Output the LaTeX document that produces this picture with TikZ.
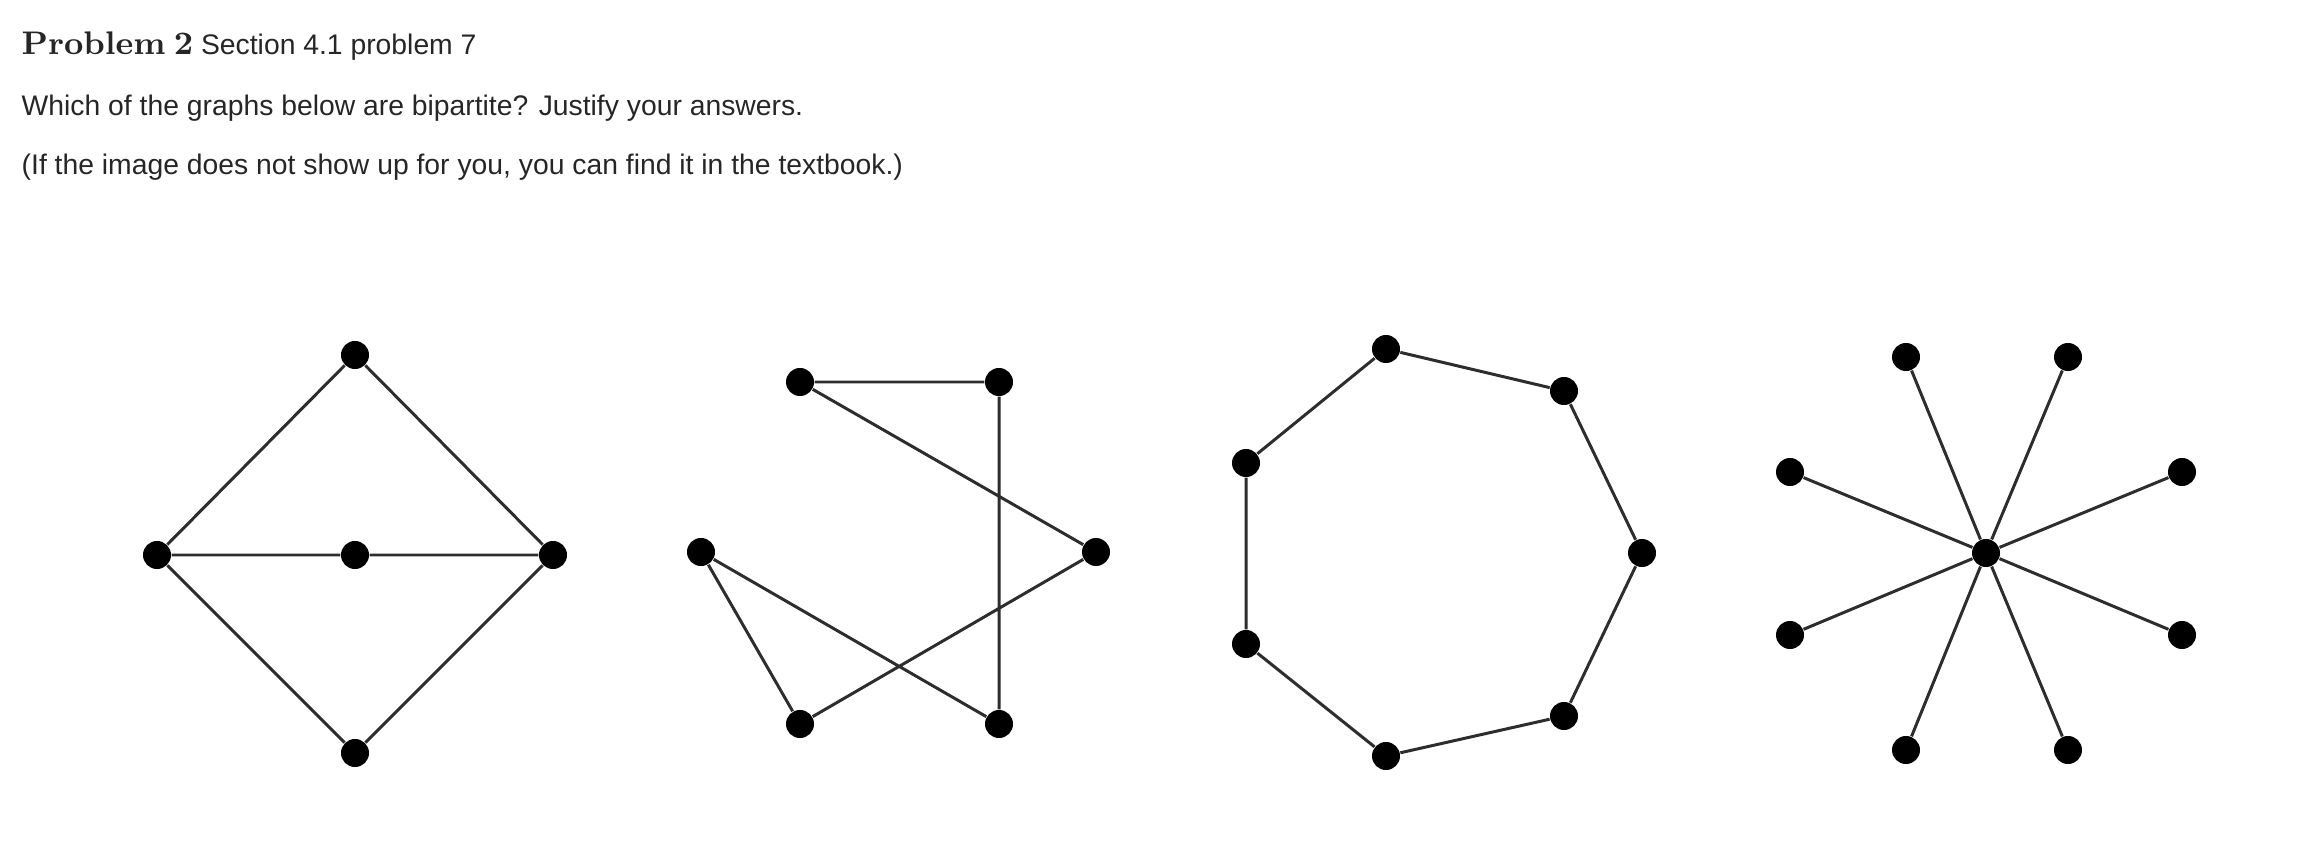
\documentclass[tikz,border=0pt]{standalone}
\usepackage{fontspec}
\setsansfont{Liberation Sans}
\definecolor{EdgeGray}{RGB}{45, 45, 45}
\usetikzlibrary{positioning}

\begin{document}
\begin{tikzpicture}[x=0.01cm, y=-0.01cm,
    vtx/.style={circle, fill=black, inner sep=0pt, minimum size=0.28cm},
    edge/.style={draw=EdgeGray, line width=0.85pt},
    txt/.style={anchor=base west, inner sep=0pt, font=\sffamily\fontsize{8.05}{9.6}\selectfont, text=black!85}]
    \useasboundingbox (0,0) rectangle (2320,852);
    % Header text
    \node[txt] (title) at (21,55) {{\rmfamily\bfseries\fontsize{9.3}{11}\selectfont Problem\kern0.25em2} Section 4.1 problem 7};
    \node[txt] (question) at (21,116) {Which of the graphs below are bipartite? Justify your answers.};
    \node[txt] (note) at (21,175) {(If the image does not show up for you, you can find it in the textbook.)};
    % Graph 1: diamond with middle path
    \node[vtx] (a1) at (355,355) {};
    \node[vtx] (a2) at (157,555) {};
    \node[vtx] (a3) at (355,555) {};
    \node[vtx] (a4) at (553,555) {};
    \node[vtx] (a5) at (355,753) {};
    \draw[edge] (a1) -- (a2) (a1) -- (a4) (a2) -- (a3) -- (a4) (a2) -- (a5) (a4) -- (a5);
    % Graph 2: crossing six vertices
    \node[vtx] (b1) at (800,382) {};
    \node[vtx] (b2) at (999,382) {};
    \node[vtx] (b3) at (1096,552) {};
    \node[vtx] (b4) at (701,552) {};
    \node[vtx] (b5) at (800,724) {};
    \node[vtx] (b6) at (999,724) {};
    \draw[edge] (b1) -- (b2) (b1) -- (b3) (b2) -- (b6) (b4) -- (b5) (b4) -- (b6) (b3) -- (b5);
    % Graph 3: seven-cycle
    \node[vtx] (c1) at (1386,349) {};
    \node[vtx] (c2) at (1564,391) {};
    \node[vtx] (c3) at (1642,553) {};
    \node[vtx] (c4) at (1564,716) {};
    \node[vtx] (c5) at (1386,756) {};
    \node[vtx] (c6) at (1246,644) {};
    \node[vtx] (c7) at (1246,463) {};
    \draw[edge] (c1) -- (c2) -- (c3) -- (c4) -- (c5) -- (c6) -- (c7) -- (c1);
    % Graph 4: star with eight leaves
    \node[vtx] (hub) at (1986,553) {};
    \node[vtx] (d1) at (1906,357) {};
    \node[vtx] (d2) at (2068,357) {};
    \node[vtx] (d3) at (1790,472) {};
    \node[vtx] (d4) at (2182,472) {};
    \node[vtx] (d5) at (1790,635) {};
    \node[vtx] (d6) at (2182,635) {};
    \node[vtx] (d7) at (1906,750) {};
    \node[vtx] (d8) at (2068,750) {};
    \foreach \leaf in {d1,d2,d3,d4,d5,d6,d7,d8}
        \draw[edge] (hub) -- (\leaf);
\end{tikzpicture}
\end{document}
